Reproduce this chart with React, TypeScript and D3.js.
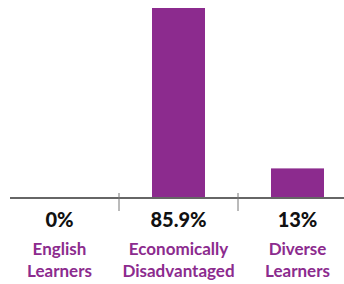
import React from 'react';
import * as d3 from 'd3';

const categories = ['English Learners', 'Economically Disadvantaged', 'Diverse Learners'];
const values = [0, 85.9, 13];
const valueLabels = ['0%', '85.9%', '13%'];
const labelLines = [['English', 'Learners'], ['Economically', 'Disadvantaged'], ['Diverse', 'Learners']];

const W = 344;
const H = 284;
const PURPLE = '#8c2b8e';

export default function App() {
  const x = d3.scaleBand().domain(categories).range([0, 357]).paddingInner(0).paddingOuter(0);
  const y = d3.scaleLinear().domain([0, 85.9]).range([197, 8]);
  const barW = 53;
  const ticks = categories.slice(1).map(c => x(c) as number);

  return (
    <svg width={W} height={H} style={{ position: 'absolute', left: 0, top: 0 }}>
      {categories.map((c, i) => {
        const cx = (x(c) as number) + x.bandwidth() / 2;
        return (
          <rect key={c} x={cx - barW / 2} y={y(values[i])} width={barW}
            height={y(0) - y(values[i])} fill={PURPLE} />
        );
      })}
      <line x1={10} x2={W} y1={198} y2={198} stroke="#666" strokeWidth={2} />
      {ticks.map((t, i) => (
        <line key={i} x1={t} x2={t} y1={193} y2={211} stroke="#777" strokeWidth={1} />
      ))}
      {categories.map((c, i) => {
        const cx = (x(c) as number) + x.bandwidth() / 2;
        return (
          <g key={c} fontFamily="Lato, sans-serif" textAnchor="middle">
            <text x={cx} y={227} fontSize={20} fontWeight={900} fill="#111">{valueLabels[i]}</text>
            {labelLines[i].map((l, j) => (
              <text key={j} x={cx} y={255 + j * 22} fontSize={17} fontWeight={700} fill={PURPLE}>{l}</text>
            ))}
          </g>
        );
      })}
    </svg>
  );
}
